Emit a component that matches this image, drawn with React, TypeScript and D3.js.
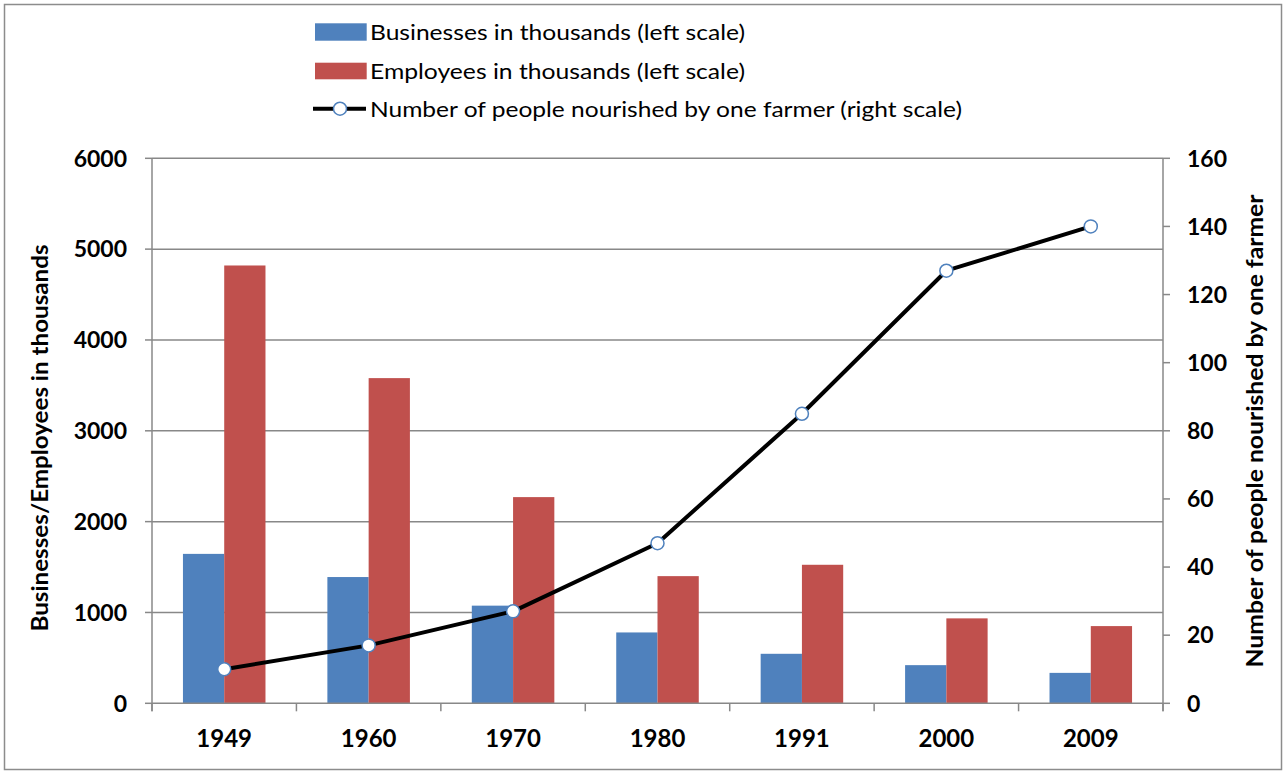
import React from "react";
import * as d3 from "d3";

const years = ["1949", "1960", "1970", "1980", "1991", "2000", "2009"];
const businesses = [1645, 1390, 1075, 780, 545, 420, 335];
const employees = [4820, 3580, 2270, 1400, 1525, 935, 850];
const nourished = [10, 17, 27, 47, 85, 127, 140];
const leftTicks = [0, 1000, 2000, 3000, 4000, 5000, 6000];
const rightTicks = [0, 20, 40, 60, 80, 100, 120, 140, 160];

const W = 1285;
const H = 773;
const L = 152;
const R = 1163;
const T = 158.3;
const B = 703.3;
const BLUE = "#4F81BD";
const RED = "#C0504D";
const GRID = "#888888";
const FONT = "Lato, 'Open Sans', sans-serif";

export default function App() {
  const x = d3.scaleBand<string>().domain(years).range([L, R]).padding(0);
  const yL = d3.scaleLinear().domain([0, 6000]).range([B, T]);
  const yR = d3.scaleLinear().domain([0, 160]).range([B, T]);
  const bw = x.bandwidth() / 3.5;
  const cx = (y: string) => (x(y) as number) + x.bandwidth() / 2;

  const line = d3
    .line<number>()
    .x((_, i) => cx(years[i]))
    .y((d) => yR(d));

  const bounds = years.map((y) => x(y) as number).concat([R]);

  return (
    <div style={{ position: "fixed", left: 0, top: 0 }}>
      <svg width={W} height={H} style={{ display: "block", background: "#fff" }}>
        <rect x={4.5} y={4.5} width={1277} height={765} fill="#fff" stroke="#8c8c8c" strokeWidth={1.5} />

        {/* gridlines */}
        {leftTicks.slice(1).map((t) => (
          <line key={"g" + t} x1={L} x2={R} y1={yL(t)} y2={yL(t)} stroke={GRID} strokeWidth={1.5} />
        ))}

        {/* bars */}
        {years.map((y, i) => (
          <g key={"b" + y}>
            <rect x={cx(y) - bw} y={yL(businesses[i])} width={bw} height={B - yL(businesses[i])} fill={BLUE} />
            <rect x={cx(y)} y={yL(employees[i])} width={bw} height={B - yL(employees[i])} fill={RED} />
          </g>
        ))}

        {/* axes */}
        <line x1={L} x2={L} y1={T} y2={B + 8} stroke={GRID} strokeWidth={1.5} />
        <line x1={R} x2={R} y1={T} y2={B + 8} stroke={GRID} strokeWidth={1.5} />
        <line x1={L} x2={R} y1={B} y2={B} stroke={GRID} strokeWidth={1.5} />
        {leftTicks.map((t) => (
          <line key={"lt" + t} x1={L - 7} x2={L} y1={yL(t)} y2={yL(t)} stroke={GRID} strokeWidth={1.5} />
        ))}
        {rightTicks.map((t) => (
          <line key={"rt" + t} x1={R} x2={R + 7} y1={yR(t)} y2={yR(t)} stroke={GRID} strokeWidth={1.5} />
        ))}
        {bounds.map((b, i) => (
          <line key={"xt" + i} x1={b} x2={b} y1={B} y2={B + 8} stroke={GRID} strokeWidth={1.5} />
        ))}

        {/* line series */}
        <path d={line(nourished) || ""} fill="none" stroke="#000" strokeWidth={4} strokeLinejoin="round" />
        {nourished.map((v, i) => (
          <circle key={"m" + i} cx={cx(years[i])} cy={yR(v)} r={6.5} fill="#fff" stroke={BLUE} strokeWidth={1.5} />
        ))}

        {/* tick labels */}
        {leftTicks.map((t) => (
          <text key={"ll" + t} x={127} y={yL(t)} dy="0.36em" textAnchor="end" fontFamily={FONT} fontWeight="bold" fontSize={23}>
            {t}
          </text>
        ))}
        {rightTicks.map((t) => (
          <text key={"rl" + t} x={1187} y={yR(t)} dy="0.36em" textAnchor="start" fontFamily={FONT} fontWeight="bold" fontSize={23}>
            {t}
          </text>
        ))}
        {years.map((y) => (
          <text key={"xl" + y} x={cx(y)} y={746.5} textAnchor="middle" fontFamily={FONT} fontWeight="bold" fontSize={24}>
            {y}
          </text>
        ))}

        {/* axis titles */}
        <text transform={`translate(48,438) rotate(-90)`} textAnchor="middle" fontFamily={FONT} fontWeight="bold" fontSize={22} textLength={387} lengthAdjust="spacingAndGlyphs">
          Businesses/Employees in thousands
        </text>
        <text transform={`translate(1263,431) rotate(-90)`} textAnchor="middle" fontFamily={FONT} fontWeight="bold" fontSize={22} textLength={473} lengthAdjust="spacingAndGlyphs">
          Number of people nourished by one farmer
        </text>

        {/* legend */}
        <rect x={315} y={23.3} width={51.7} height={17.4} fill={BLUE} />
        <text x={370} y={39.5} fontFamily={FONT} fontSize={22} textLength={375} lengthAdjust="spacingAndGlyphs">
          Businesses in thousands (left scale)
        </text>
        <rect x={315} y={62.7} width={51.7} height={16.6} fill={RED} />
        <text x={370} y={78.5} fontFamily={FONT} fontSize={22} textLength={375} lengthAdjust="spacingAndGlyphs">
          Employees in thousands (left scale)
        </text>
        <line x1={313} x2={366} y1={108.7} y2={108.7} stroke="#000" strokeWidth={4} />
        <circle cx={340} cy={108.7} r={6.5} fill="#fff" stroke={BLUE} strokeWidth={1.5} />
        <text x={370} y={117} fontFamily={FONT} fontSize={22} textLength={592} lengthAdjust="spacingAndGlyphs">
          Number of people nourished by one farmer (right scale)
        </text>
      </svg>
    </div>
  );
}
